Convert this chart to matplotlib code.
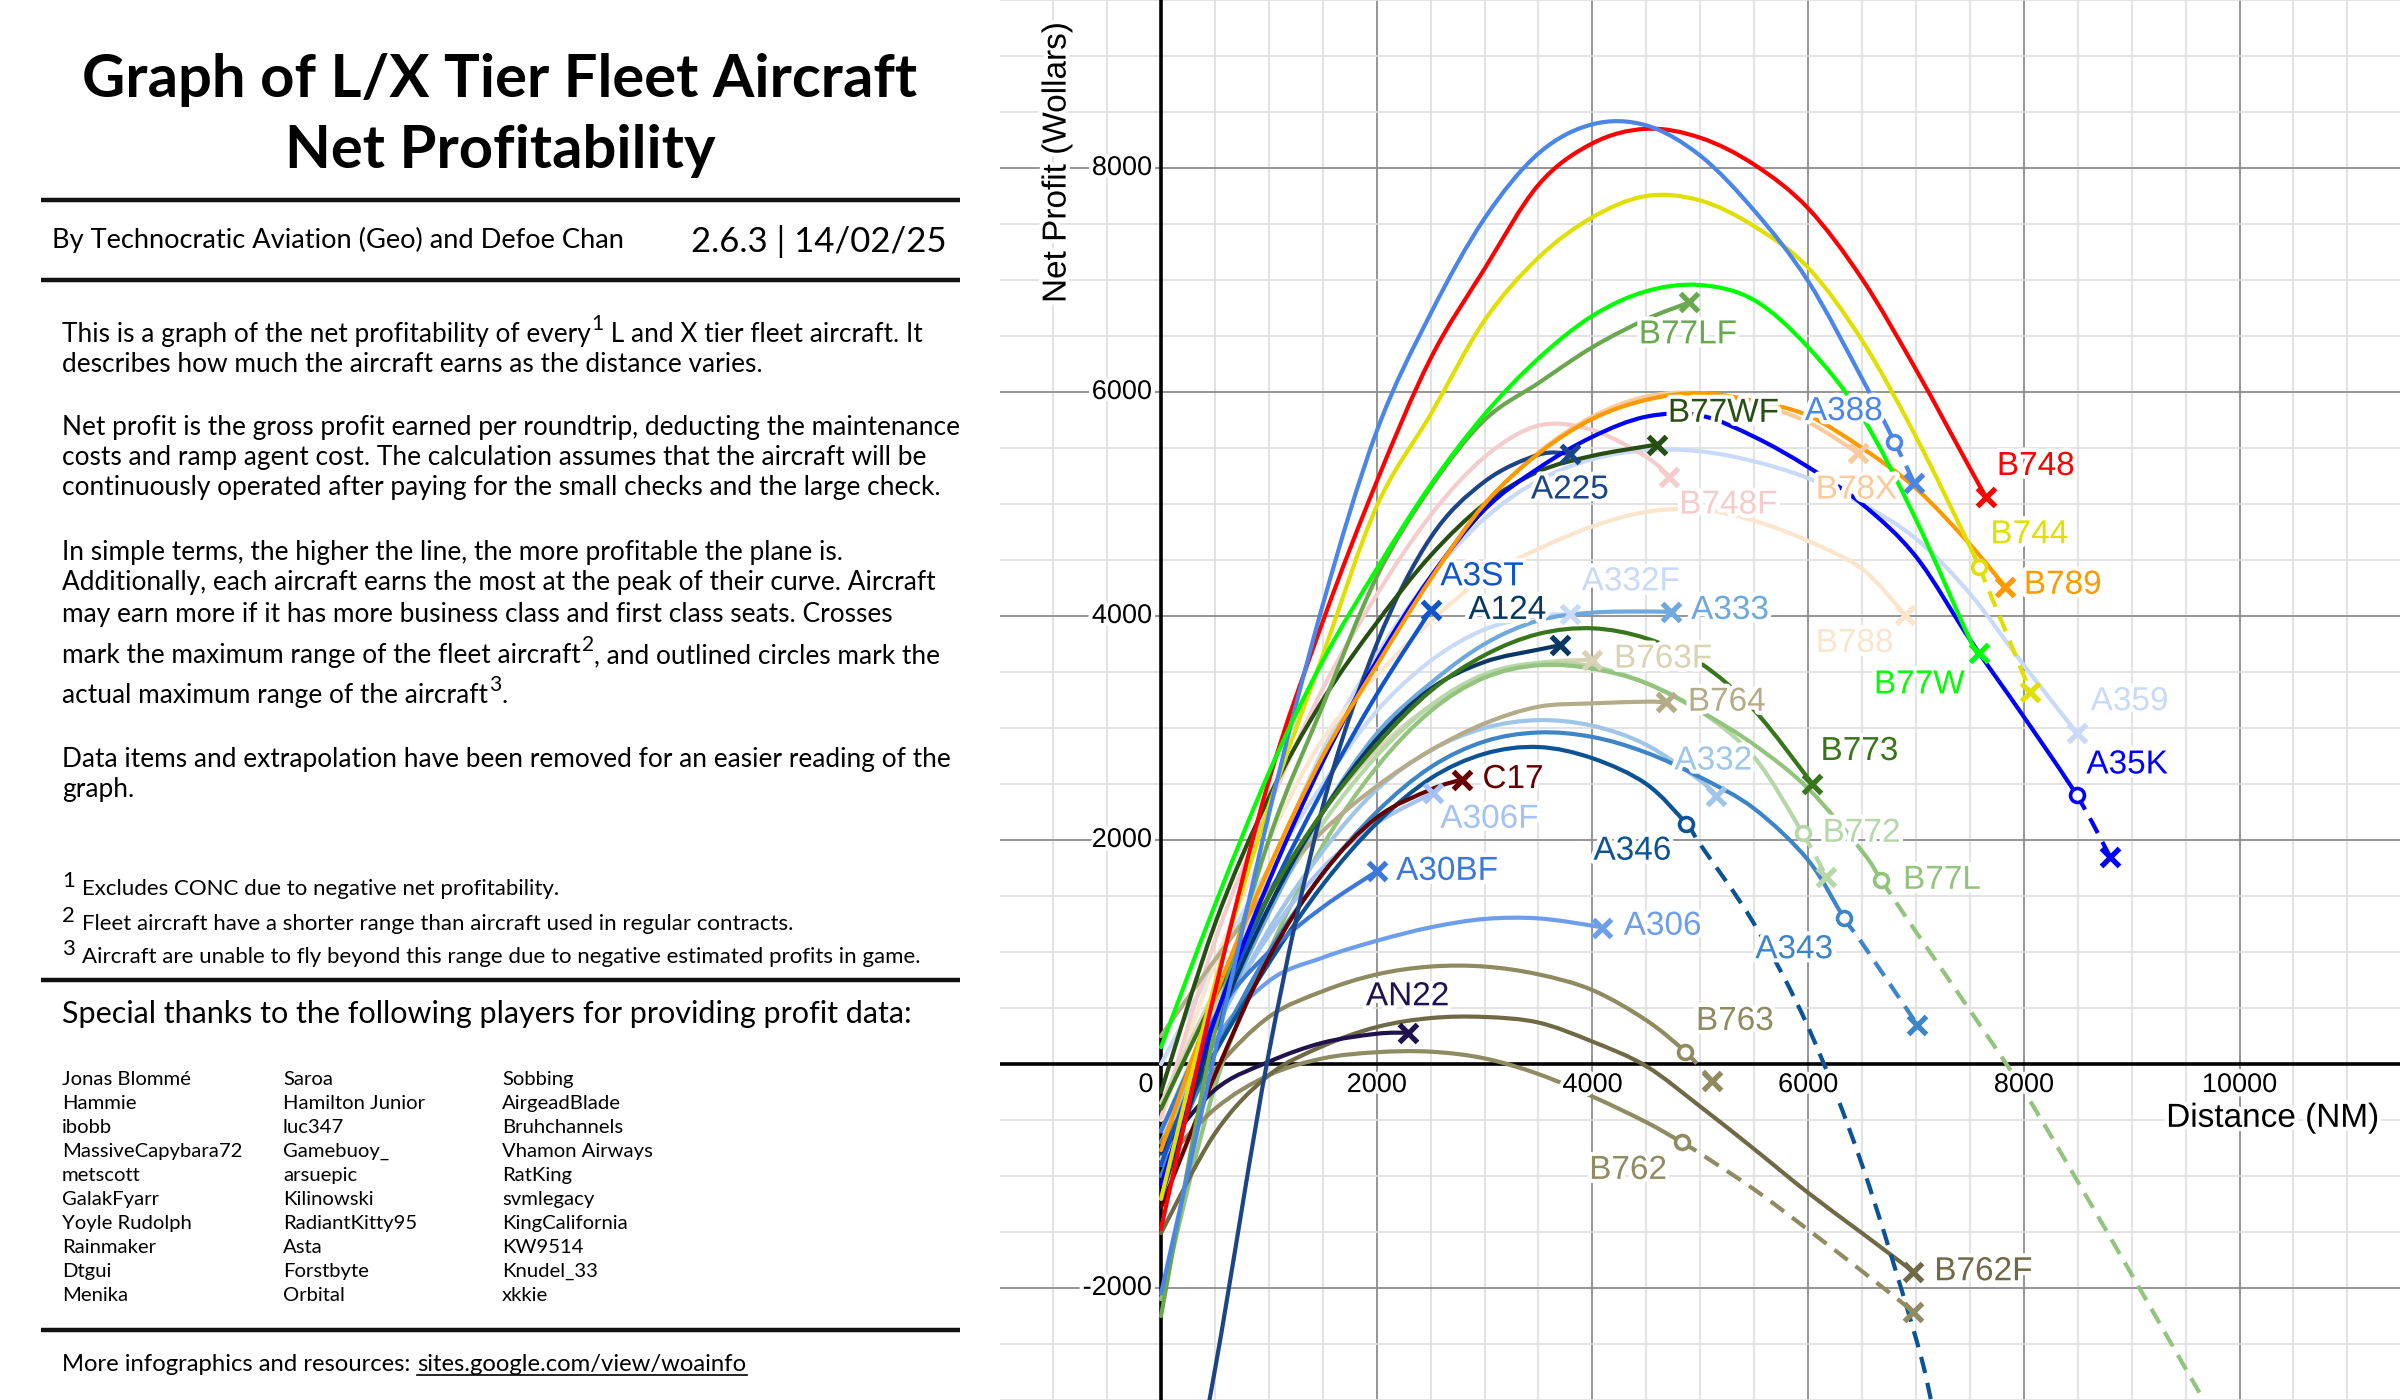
import numpy as np
import matplotlib
matplotlib.use("Agg")
import matplotlib.pyplot as plt
import matplotlib.patheffects as pe
from matplotlib.path import Path
from matplotlib.patches import PathPatch

# ---------------------------------------------------------------
# net profit (Wollars) every 500 NM, from 0 NM
# ---------------------------------------------------------------
STEP = 500

B748 = [-1470, 650, 2530, 3950, 5200, 6300, 7100, 7850, 8220, 8350, 8270, 8030, 7640, 7010, 6200, 5320]
A388 = [-2050, 100, 2230, 4100, 5650, 6700, 7550, 8130, 8390, 8380, 8110, 7620, 6990, 6120]
B744 = [-1205, 720, 2300, 3650, 4980, 5800, 6640, 7200, 7560, 7750, 7710, 7480, 7110, 6460, 5600, 4620]
B77W = [150, 1420, 2600, 3600, 4420, 5170, 5800, 6300, 6680, 6900, 6955, 6820, 6400, 5780, 4860, 3790]
B77LF = [-2250, 300, 2000, 3200, 4350, 5150, 5750, 6080, 6400, 6650]
B77WF = [-250, 1250, 2380, 3250, 3940, 4540, 5000, 5290, 5430, 5515]
A35K = [-1080, 400, 1630, 2700, 3600, 4350, 4950, 5320, 5600, 5780, 5790, 5600, 5330, 5000, 4530, 3790, 3100]
B789 = [-770, 600, 1750, 2750, 3560, 4330, 5000, 5450, 5760, 5930, 5990, 5920, 5790, 5500, 5140, 4640]
B78X = [-850, 550, 1720, 2730, 3560, 4330, 4990, 5460, 5780, 5960, 5990, 5900, 5730]
B748F = [-480, 1100, 2300, 3350, 4190, 4900, 5420, 5700, 5660, 5420]
A225 = [-5300, -2730, 100, 2300, 3750, 4700, 5200, 5440]
A3ST = [-900, 400, 1500, 2450, 3300]
A124 = [-1200, 300, 1400, 2250, 2900, 3350, 3590, 3700]
A332F = [0, 900, 1750, 2500, 3150, 3600, 3880, 4000]
A333 = [-900, 300, 1350, 2250, 2950, 3400, 3750, 3960, 4030, 4040]
A332 = [-700, 300, 1200, 1900, 2450, 2800, 3000, 3070, 3020, 2850, 2530]
A343 = [-1000, 100, 1000, 1700, 2250, 2650, 2880, 2960, 2920, 2780, 2560, 2280, 1820, 1080]
A346 = [-800, 100, 900, 1600, 2150, 2550, 2770, 2830, 2730, 2500, 1960, 1250, 330, -900, -2450]
B773 = [-400, 600, 1500, 2250, 2850, 3330, 3650, 3840, 3890, 3800, 3580, 3160]
B772 = [-600, 500, 1400, 2150, 2750, 3200, 3480, 3580, 3550, 3400, 3150, 2740]
B77L = [-2100, -200, 1000, 1950, 2650, 3150, 3450, 3560, 3530, 3400, 3150, 2850, 2460, 1900,
        1180, 480, -240, -1050, -1880, -2720]
B763F = [-350, 650, 1500, 2250, 2800, 3200, 3450, 3580]
B764 = [250, 930, 1560, 2080, 2480, 2800, 3040, 3190, 3220, 3235]
C17 = [-1280, -100, 950, 1700, 2200, 2450]
A306F = [-600, 350, 1150, 1750, 2150]
A30BF = [-600, 420, 1000, 1400]
A306 = [-900, 200, 740, 950, 1100, 1220, 1295, 1300, 1235]
AN22 = [-780, -230, 20, 190, 270]
B763 = [-700, -50, 420, 650, 800, 870, 870, 800, 660, 390]
B762F = [-1510, -620, -100, 160, 330, 410, 420, 370, 200, -20, -380, -760, -1150, -1510]
B762 = [-900, -400, -100, 50, 105, 110, 50, -90, -290, -520, -800, -1120, -1480, -1850]
B788 = [-500, 900, 2000, 2900, 3470, 3950, 4350, 4600, 4800, 4930, 4950, 4850, 4670, 4420]
A359 = [-800, 500, 1700, 2800, 3650, 4350, 4870, 5210, 5400, 5480, 5470, 5380, 5230, 5000, 4690, 4200, 3560]

# maximum fleet range (crosses) and actual maximum range (circles), (NM, Wollars)
FLEET_END = {
    "B748": (7650, 5060), "A388": (6985, 5185), "B744": (8061, 3324), "B77W": (7585, 3667),
    "B77LF": (4900, 6800), "B77WF": (4600, 5530), "A35K": (8800, 1850), "B789": (7825, 4262),
    "B78X": (6467, 5452), "B748F": (4712, 5245), "A225": (3790, 5448), "A3ST": (2500, 4050),
    "A124": (3700, 3737), "A332F": (3790, 4015), "A333": (4728, 4036), "A332": (5150, 2394),
    "A343": (7014, 348), "A346": (7150, -3050), "B773": (6040, 2500), "B772": (6170, 1670),
    "B77L": (9800, -3220), "B763F": (3994, 3610), "B764": (4681, 3230), "C17": (2790, 2540),
    "A306F": (2520, 2420), "A30BF": (2000, 1720), "A306": (4090, 1215), "AN22": (2290, 280),
    "B763": (5110, -150), "B762F": (6976, -1854), "B762": (6976, -2211), "B788": (6900, 4010),
    "A359": (8495, 2953),
}
ACTUAL_END = {
    "A388": (6800, 5556), "B744": (7585, 4440), "A35K": (8490, 2400), "A343": (6335, 1300),
    "A346": (4869, 2146), "B772": (5950, 2060), "B77L": (6680, 1640), "B763": (4860, 110),
    "B762": (4830, -700),
}
NO_CROSS = ["A346", "B77L"]

SERIES = {
    "A332F": A332F, "A359": A359, "B788": B788, "B748F": B748F, "B78X": B78X, "B763F": B763F,
    "B772": B772, "B77L": B77L, "A306F": A306F, "A332": A332, "A333": A333, "B764": B764,
    "B763": B763, "B762": B762, "B762F": B762F, "A306": A306, "A343": A343, "A346": A346,
    "A30BF": A30BF, "AN22": AN22, "C17": C17, "A124": A124, "A3ST": A3ST, "A225": A225,
    "B773": B773, "B77WF": B77WF, "B77LF": B77LF, "A35K": A35K, "B789": B789, "B744": B744,
    "B748": B748, "A388": A388, "B77W": B77W,
}

COLORS = {
    "B748": "#ff0000", "A388": "#4a86e8", "B744": "#e0e000", "B77W": "#00ff00",
    "B77LF": "#6aa84f", "B77WF": "#274e13", "A35K": "#0000ff", "B789": "#ff9900",
    "B78X": "#f9cb9c", "B748F": "#f4cccc", "A225": "#1c4587", "A3ST": "#1155cc",
    "A124": "#073763", "A332F": "#c9daf8", "A333": "#6fa8dc", "A332": "#9fc5e8",
    "A343": "#3d85c6", "A346": "#0b5394", "B773": "#38761d", "B772": "#b6d7a8",
    "B77L": "#93c47d", "B763F": "#d9d2b5", "B764": "#b4ac88", "C17": "#660000",
    "A306F": "#a4c2f4", "A30BF": "#3c78d8", "A306": "#6d9eeb", "AN22": "#20124d",
    "B763": "#8f8a5f", "B762F": "#6f6a45", "B762": "#8f8b62", "B788": "#fce5cd",
    "A359": "#c9daf8",
}

LABEL_POS = {
    "B77LF": (4430, 6510), "B77WF": (4700, 5810), "A388": (5970, 5825), "B748": (7750, 5335),
    "B744": (7690, 4725), "B789": (8000, 4275), "B78X": (6070, 5125), "B748F": (4805, 4990),
    "A225": (3430, 5125), "A3ST": (2590, 4350), "A124": (2850, 4050), "A332F": (3900, 4305),
    "A333": (4915, 4050), "B763F": (4200, 3615), "B764": (4885, 3230), "B773": (6115, 2790),
    "A332": (4760, 2705), "B772": (6135, 2060), "B77L": (6880, 1640), "A343": (5510, 1020),
    "A346": (4010, 1900), "C17": (2980, 2540), "A306F": (2590, 2185), "A30BF": (2180, 1720),
    "A306": (4290, 1230), "AN22": (1900, 600), "B763": (4960, 380), "B762": (3970, -950),
    "B762F": (7170, -1855), "B788": (6070, 3755), "A359": (8620, 3235), "A35K": (8580, 2670),
    "B77W": (6610, 3385),
}

NAMES_COL1 = ["Jonas Blommé", "Hammie", "ibobb", "MassiveCapybara72", "metscott",
              "GalakFyarr", "Yoyle Rudolph", "Rainmaker", "Dtgui", "Menika"]
NAMES_COL2 = ["Saroa", "Hamilton Junior", "luc347", "Gamebuoy_", "arsuepic",
              "Kilinowski", "RadiantKitty95", "Asta", "Forstbyte", "Orbital"]
NAMES_COL3 = ["Sobbing", "AirgeadBlade", "Bruhchannels", "Vhamon Airways", "RatKing",
              "svmlegacy", "KingCalifornia", "KW9514", "Knudel_33", "xkkie"]

SANS = ["Lato", "DejaVu Sans"]
ARIAL = ["Liberation Sans", "DejaVu Sans"]


def bezier_segments(x, y):
    # smooth cubic pieces passing through the read points (drawn by matplotlib's Path)
    p = np.column_stack([x, y]).astype(float)
    ext = np.vstack([p[0], p, p[-1]])
    segs = []
    for i in range(len(p) - 1):
        a, b, c, d = ext[i], ext[i + 1], ext[i + 2], ext[i + 3]
        segs.append([b, b + (c - a) / 6, c - (d - b) / 6, c])
    return segs


def segments_path(segs):
    verts = [segs[0][0]]
    for s in segs:
        verts += s[1:]
    return Path(verts, [Path.MOVETO] + [Path.CURVE4] * (3 * len(segs)))


fig = plt.figure(figsize=(24, 14), dpi=100)
fig.patch.set_facecolor("white")

# ---------------- graph ----------------
ax = fig.add_axes([1000 / 2400, 0, 1400 / 2400, 1])
ax.set_xlim(-1493, 11488)
ax.set_ylim(-3000, 9500)
ax.set_axis_off()

for v in np.arange(-1500, 11501, 500):
    major = v % 2000 == 0
    ax.axvline(v, color="#8c8c8c" if major else "#dedede", lw=1.3 if major else 1.2, zorder=0)
for v in np.arange(-3000, 9501, 500):
    major = v % 2000 == 0
    ax.axhline(v, color="#8c8c8c" if major else "#dedede", lw=1.3 if major else 1.2, zorder=0)
ax.axhline(0, color="black", lw=2.6, zorder=1)
ax.axvline(0, color="black", lw=2.6, zorder=1)

halo = [pe.withStroke(linewidth=6, foreground="white")]
for v in [2000, 4000, 6000, 8000, 10000]:
    ax.text(v, -188, str(v), ha="center", va="center", fontsize=19.5, family=ARIAL,
            path_effects=halo, zorder=3)
for v in [-2000, 2000, 4000, 6000, 8000]:
    ax.text(-85, v, str(v), ha="right", va="center", fontsize=19.5, family=ARIAL,
            path_effects=halo, zorder=3)
ax.text(-70, -188, "0", ha="right", va="center", fontsize=19.5, family=ARIAL,
        path_effects=halo, zorder=3)
ax.text(9320, -485, "Distance (NM)", ha="left", va="center", fontsize=24, family=ARIAL,
        path_effects=halo, zorder=3)
ax.text(-964, 8050, "Net Profit (Wollars)", ha="center", va="center", rotation=90,
        fontsize=24, family=ARIAL, path_effects=halo, zorder=3)

LW = 3.0
dash = (0, (4, 2.4))
for z, (name, ys) in enumerate(SERIES.items()):
    c = COLORS[name]
    xs = np.arange(len(ys)) * STEP
    ys = np.array(ys, dtype=float)
    ex, ey = FLEET_END[name]
    zz = 2 + z * 0.01
    if name in ACTUAL_END:
        cx, cy = ACTUAL_END[name]
        inside = xs < cx
        px = np.concatenate([xs[inside], [cx], xs[~inside], [ex]])
        py = np.concatenate([ys[inside], [cy], ys[~inside], [ey]])
        segs = bezier_segments(px, py)
        k = int(inside.sum())
        ax.add_patch(PathPatch(segments_path(segs[:k]), fill=False, edgecolor=c, lw=LW,
                               capstyle="round", joinstyle="round", zorder=zz))
        ax.add_patch(PathPatch(segments_path(segs[k:]), fill=False, edgecolor=c, lw=LW,
                               linestyle=dash, zorder=zz))
        ax.plot([cx], [cy], marker="o", ms=10, mfc="white", mec=c, mew=2.6, zorder=zz + 0.5)
    else:
        segs = bezier_segments(np.append(xs, ex), np.append(ys, ey))
        ax.add_patch(PathPatch(segments_path(segs), fill=False, edgecolor=c, lw=LW,
                               capstyle="round", joinstyle="round", zorder=zz))
    if name not in NO_CROSS:
        ax.plot([ex], [ey], marker="x", ms=13, mew=3.8, color=c, zorder=zz + 0.5)

for name, (lx, ly) in LABEL_POS.items():
    ax.text(lx, ly, name, color=COLORS[name], fontsize=24, family=ARIAL, ha="left",
            va="center", path_effects=halo, zorder=5)

# ---------------- text panel ----------------
lp = fig.add_axes([0, 0, 1000 / 2400, 1])
lp.set_xlim(0, 1000)
lp.set_ylim(1400, 0)
lp.set_axis_off()

lp.text(500, 97, "Graph of L/X Tier Fleet Aircraft", ha="center", va="baseline",
        fontsize=43, fontweight="bold", family=SANS)
lp.text(500, 168, "Net Profitability", ha="center", va="baseline",
        fontsize=43, fontweight="bold", family=SANS)
for yy in [200, 280, 980, 1330]:
    lp.plot([41, 960], [yy, yy], color="#111111", lw=3.2, solid_capstyle="butt")

lp.text(52, 248, "By Technocratic Aviation (Geo) and Defoe Chan", fontsize=19.6,
        family=SANS, va="baseline")
lp.text(947, 252, "2.6.3 | 14/02/25", fontsize=25, family=SANS, va="baseline", ha="right")

renderer = fig.canvas.get_renderer()
BODY = 18.9


def line(y, parts, size=BODY, x=62):
    # parts: list of (text, superscript?)
    for s, sup in parts:
        if sup:
            t = lp.text(x + 1, y - size * 0.62, s, fontsize=size * 0.8, family=SANS, va="baseline")
        else:
            t = lp.text(x, y, s, fontsize=size, family=SANS, va="baseline")
        x = t.get_window_extent(renderer).x1
    return x


line(342, [("This is a graph of the net profitability of every", False), ("1", True),
           (" L and X tier fleet aircraft. It", False)])
line(372, [("describes how much the aircraft earns as the distance varies.", False)])
line(435, [("Net profit is the gross profit earned per roundtrip, deducting the maintenance", False)])
line(465, [("costs and ramp agent cost. The calculation assumes that the aircraft will be", False)])
line(495, [("continuously operated after paying for the small checks and the large check.", False)])
line(560, [("In simple terms, the higher the line, the more profitable the plane is.", False)])
line(590, [("Additionally, each aircraft earns the most at the peak of their curve. Aircraft", False)])
line(622, [("may earn more if it has more business class and first class seats. Crosses", False)])
line(663, [("mark the maximum range of the fleet aircraft", False), ("2", True),
           (", and outlined circles mark the", False)])
line(703, [("actual maximum range of the aircraft", False), ("3", True), (".", False)])
line(767, [("Data items and extrapolation have been removed for an easier reading of the", False)])
line(797, [("graph.", False)])

notes = ["Excludes CONC due to negative net profitability.",
         "Fleet aircraft have a shorter range than aircraft used in regular contracts.",
         "Aircraft are unable to fly beyond this range due to negative estimated profits in game."]
for i, (yy, s) in enumerate(zip([895, 930, 963], notes)):
    lp.text(62, yy - 8, str(i + 1), fontsize=16, family=SANS, va="baseline")
    lp.text(82, yy, s, fontsize=16, family=SANS, va="baseline")

lp.text(62, 1023, "Special thanks to the following players for providing profit data:",
        fontsize=22, family=SANS, va="baseline")
for cx, col in zip([62, 283, 502], [NAMES_COL1, NAMES_COL2, NAMES_COL3]):
    for i, s in enumerate(col):
        lp.text(cx, 1085 + 24 * i, s, fontsize=14.6, family=SANS, va="baseline")

xe = line(1371, [("More infographics and resources:", False)], size=17.2)
link = lp.text(xe + 7, 1371, "sites.google.com/view/woainfo", fontsize=17.2, family=SANS,
               va="baseline")
bb = link.get_window_extent(renderer)
lp.plot([bb.x0, bb.x1], [1375, 1375], color="black", lw=1.2)

fig.savefig("out.png", dpi=100, facecolor="white")
